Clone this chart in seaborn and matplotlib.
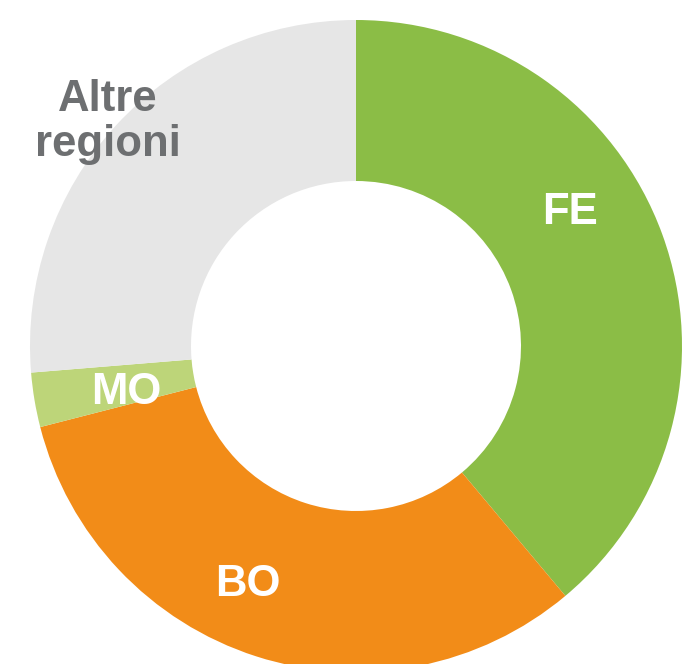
import matplotlib
matplotlib.use("Agg")
import matplotlib.pyplot as plt
import seaborn as sns

# Shares per area (percent), clockwise from 12 o'clock
labels = ["FE", "BO", "MO", "Altre\nregioni"]
values = [38.9, 32.1, 2.7, 26.3]
colors = ["#8BBD46", "#F28C18", "#BDD579", "#E6E6E6"]
text_colors = ["white", "white", "white", "#6D6F71"]

sns.set_style("white")
plt.rcParams["font.family"] = ["Liberation Sans", "DejaVu Sans"]

fig = plt.figure(figsize=(6.82, 6.64), dpi=100)
ax = fig.add_axes([0, 0, 1, 1])

outer = 326
inner = 165
wedges, _ = ax.pie(values, colors=colors, startangle=90, counterclock=False,
                   radius=outer, wedgeprops=dict(width=outer - inner, linewidth=0))

# label positions (pixel offsets from centre)
label_pos = [(214, 134), (-108, -239), (-230, -46), (-248, 224)]
for (lx, ly), lab, tc in zip(label_pos, labels, text_colors):
    ax.text(lx, ly, lab, ha="center", va="center", fontsize=31.5,
            fontweight="bold", color=tc, linespacing=1.12)

# centre at (356, 346) px from top-left
ax.set_xlim(-356, 682 - 356)
ax.set_ylim(-(664 - 346), 346)
ax.set_aspect("equal")
ax.axis("off")

fig.savefig("out.png", dpi=100)
